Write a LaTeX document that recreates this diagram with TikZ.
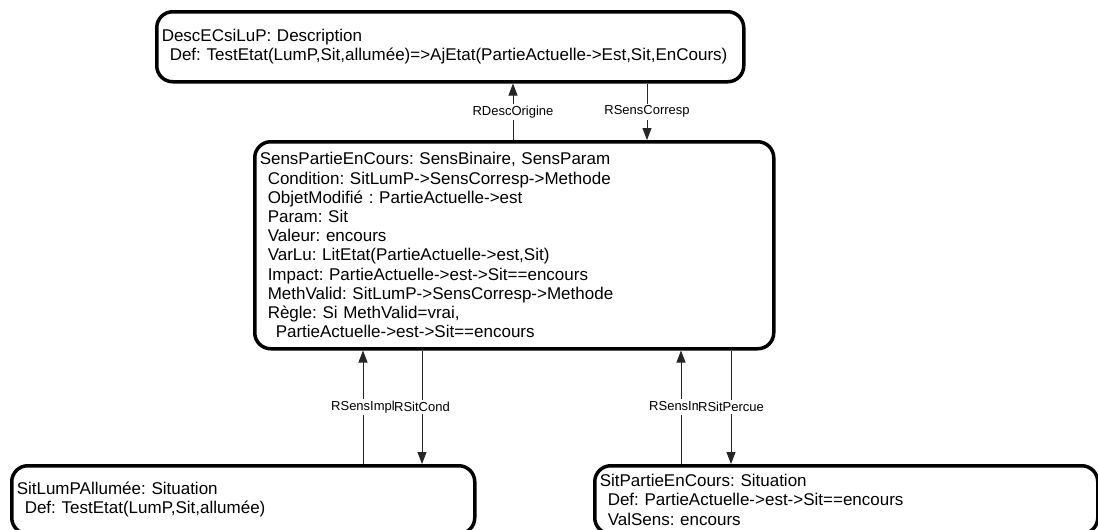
\documentclass[tikz,border=0pt]{standalone}
\usepackage{fontspec}
\setmainfont{Liberation Sans}
\usetikzlibrary{arrows.meta}
\newcommand{\ecart}{\hspace*{8pt}}
\frenchspacing

\begin{document}
\begin{tikzpicture}[x=1pt, y=-1pt,
  objet/.style={draw, line width=3.5pt, rounded corners=16pt, anchor=north west,
    align=left, inner xsep=5pt, inner ysep=0pt, font=\fontsize{17}{19.2}\selectfont},
  lien/.style={draw=black!85, line width=0.8pt},
  fleche/.style={lien, -{Triangle[length=12pt,width=9pt]}},
  rel/.style={fill=white, inner xsep=0.5pt, inner ysep=2pt, font=\fontsize{13}{15}\selectfont}]
\useasboundingbox (0,0) rectangle (1098,530);
\clip (0,0) rectangle (1098,530);

\node[objet, minimum width=587, minimum height=70, text width=577] (desc) at (155,10)
  {DescECsiLuP: Description\\
   \ecart Def: TestEtat(LumP,Sit,allumée)=>AjEtat(PartieActuelle->Est,Sit,EnCours)};
\node[objet, minimum width=519, minimum height=207, text width=509] (sens) at (253,140)
  {SensPartieEnCours: SensBinaire, SensParam\\
   \ecart Condition: SitLumP->SensCorresp->Methode\\
   \ecart ObjetModifié : PartieActuelle->est\\
   \ecart Param: Sit\\
   \ecart Valeur: encours\\
   \ecart VarLu: LitEtat(PartieActuelle->est,Sit)\\
   \ecart Impact: PartieActuelle->est->Sit==encours\\
   \ecart MethValid: SitLumP->SensCorresp->Methode\\
   \ecart Règle: Si MethValid=vrai,\\
   \ecart\ecart PartieActuelle->est->Sit==encours};
\node[objet, minimum width=463, minimum height=68, text width=453] (sitlum) at (10,464)
  {SitLumPAllumée: Situation\\
   \ecart Def: TestEtat(LumP,Sit,allumée)};
\node[objet, minimum width=503, minimum height=68, text width=493] (sitpartie) at (593,464)
  {SitPartieEnCours: Situation\\
   \ecart Def: PartieActuelle->est->Sit==encours\\
   \ecart ValSens: encours};

\draw[fleche] ([xshift=260pt]sens.north west) -- ([xshift=260pt]sens.north west |- desc.south)
  node[rel, midway] {RDescOrigine};
\draw[fleche] ([xshift=394pt]sens.north west |- desc.south) -- ([xshift=394pt]sens.north west)
  node[rel, midway] {RSensCorresp};

\draw[fleche] ([xshift=110pt]sens.south west |- sitlum.north) -- ([xshift=110pt]sens.south west)
  node[rel, midway] {RSensImpl};
\draw[fleche] ([xshift=169pt]sens.south west) -- ([xshift=169pt]sens.south west |- sitlum.north)
  node[rel, midway] {RSitCond};
\draw[fleche] ([xshift=428pt]sens.south west |- sitpartie.north) -- ([xshift=428pt]sens.south west)
  node[rel, midway] {RSensImpl};
\draw[fleche] ([xshift=478pt]sens.south west) -- ([xshift=478pt]sens.south west |- sitpartie.north)
  node[rel, midway] {RSitPercue};
\end{tikzpicture}
\end{document}
